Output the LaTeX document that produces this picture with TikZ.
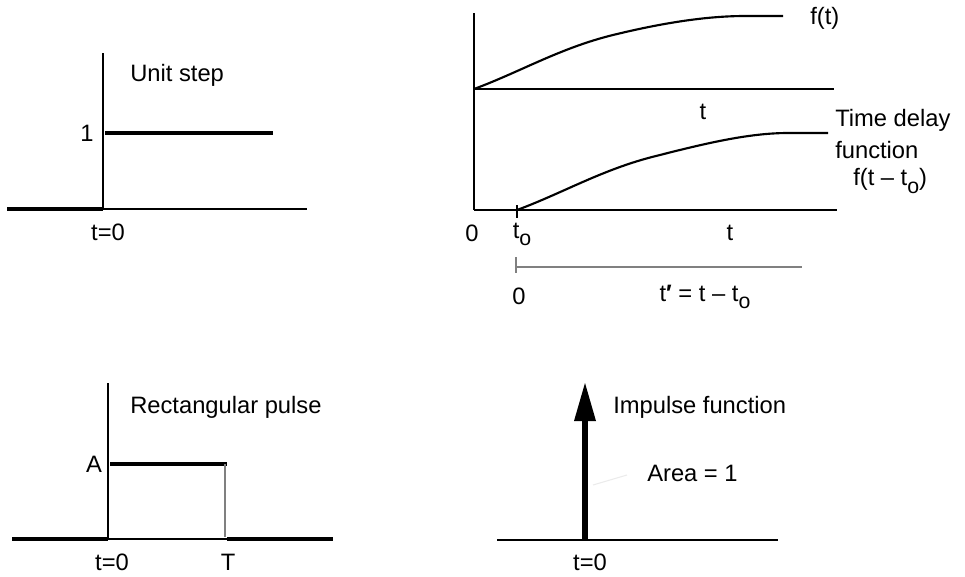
\documentclass[tikz,border=0pt]{standalone}
\usepackage{fontspec}
\setmainfont{Liberation Sans}
\newcommand\subo{\raisebox{-0.3em}{\fontsize{16}{16}\selectfont o}}
\begin{document}
\begin{tikzpicture}[x=0.75pt,y=-0.75pt,
  ax/.style={line width=1.9pt},
  thk/.style={line width=3.4pt},
  crv/.style={line width=1.6pt},
  gry/.style={line width=1.1pt,draw=black!50},
  lbl/.style={inner sep=0pt,font=\fontsize{17.8}{21}\selectfont}]
\useasboundingbox (0,0) rectangle (965,576);
% ---------- Unit step ----------
\coordinate (u0) at (103,209);
\draw[ax] (103,53) -- (u0);
\draw[thk] (7,209) -- (u0);
\draw[ax] (u0) -- (307,209);
\draw[thk] (105,133) -- (273,133);
\node[lbl] (u1) at (87,133) {1};
\node[lbl,anchor=west] (ut) at (130,75) {Unit step};
\node[lbl] (ut0) at (108,232) {t=0};
% ---------- Time delay ----------
\coordinate (o) at (474,210);
\coordinate (o2) at (474,89);
\coordinate (d0) at (517,210);
\draw[ax] (474,13) -- (o);
\draw[ax] (o2) -- (834,89);
\draw[ax] (o) -- (837,210);
\draw[crv] (o2) .. controls (520,72) and (560,48) .. (613,35)
  .. controls (660,23.5) and (705,16) .. (745,16) -- (783,16);
\draw[crv] (d0) .. controls (563,193) and (603,169) .. (656,156)
  .. controls (703,144) and (748,133) .. (788,133) -- (828,133);
\draw[ax] (517,205) -- (517,218);
\node[lbl,anchor=west] (ft) at (810,18) {f(t)};
\node[lbl] (t1) at (703,112) {t};
\node[lbl,anchor=west] (td1) at (835,120) {Time delay};
\node[lbl,anchor=west] (td2) at (835,150) {function};
\node[lbl,anchor=west] (td3) at (853,181) {f(t – t\subo)};
\node[lbl] (z1) at (472,233) {0};
\node[lbl] (to) at (522,234) {t\subo};
\node[lbl] (t2) at (730,233) {t};
\draw[gry] (516,267) -- (802,267);
\draw[gry] (516,257) -- (516,273);
\node[lbl] (z2) at (519,296) {0};
\node[lbl] (tp) at (705,297) {t\textbf{′} = t – t\subo};
% ---------- Rectangular pulse ----------
\coordinate (p0) at (108,539);
\coordinate (pT) at (227,539);
\draw[ax] (108,383) -- (p0);
\draw[thk] (12,539) -- (p0);
\draw[ax] (p0) -- (pT);
\draw[thk] (pT) -- (333,539);
\draw[thk] (110,464) -- (227,464);
\draw[gry] (225,464) -- (225,537);
\node[lbl] (pa) at (94,464) {A};
\node[lbl,anchor=west] (pr) at (130,407) {Rectangular pulse};
\node[lbl] (pt0) at (112,562) {t=0};
\node[lbl] (ptt) at (228,562) {T};
% ---------- Impulse ----------
\coordinate (i0) at (585,540);
\coordinate (itip) at (585,383);
\draw[ax] (497,540) -- (778,540);
\draw[line width=3.8pt] (i0) -- (585,418);
\fill (itip) -- (596,421) -- (574,421) -- cycle;
\draw[line width=0.8pt,draw=black!8] (593,485) -- (627,475);
\node[lbl,anchor=west] (ip) at (613,407) {Impulse function};
\node[lbl,anchor=west] (ia) at (647,473) {Area = 1};
\node[lbl] (it0) at (590,562) {t=0};
\end{tikzpicture}
\end{document}
